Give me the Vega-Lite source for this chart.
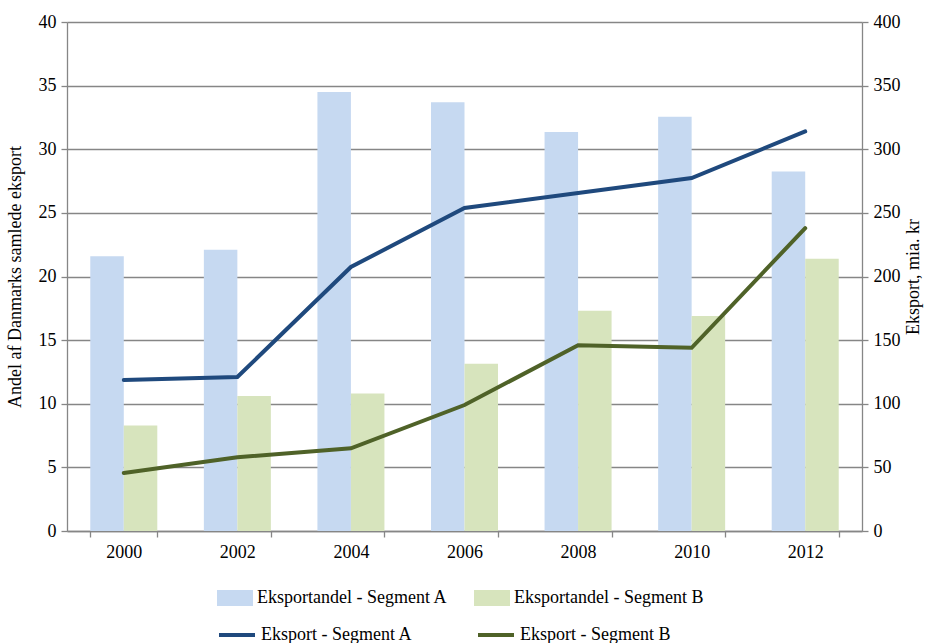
{
  "$schema": "https://vega.github.io/schema/vega-lite/v6.json",
  "width": 795,
  "height": 509,
  "autosize": {"type": "none"},
  "padding": {"left": 67, "top": 22, "right": 69, "bottom": 112},
  "background": "white",
  "config": {
    "font": "Times New Roman",
    "view": {"stroke": null},
    "axis": {
      "labelFont": "Times New Roman",
      "titleFont": "Times New Roman",
      "labelFontSize": 18,
      "titleFontSize": 18,
      "titleFontWeight": "normal",
      "labelColor": "#000000",
      "titleColor": "#000000",
      "domainColor": "#868686",
      "tickColor": "#868686",
      "gridColor": "#868686",
      "domainWidth": 1.3,
      "tickWidth": 1.3,
      "gridWidth": 1.3
    },
    "legend": {
      "labelFont": "Times New Roman",
      "labelFontSize": 18,
      "labelColor": "#000000",
      "padding": 0
    }
  },
  "datasets": {
    "bars": [
      {"year": "2000", "series": "Eksportandel - Segment A", "value": 21.6},
      {"year": "2002", "series": "Eksportandel - Segment A", "value": 22.1},
      {"year": "2004", "series": "Eksportandel - Segment A", "value": 34.5},
      {"year": "2006", "series": "Eksportandel - Segment A", "value": 33.7},
      {"year": "2008", "series": "Eksportandel - Segment A", "value": 31.35},
      {"year": "2010", "series": "Eksportandel - Segment A", "value": 32.55},
      {"year": "2012", "series": "Eksportandel - Segment A", "value": 28.25},
      {"year": "2000", "series": "Eksportandel - Segment B", "value": 8.3},
      {"year": "2002", "series": "Eksportandel - Segment B", "value": 10.6},
      {"year": "2004", "series": "Eksportandel - Segment B", "value": 10.8},
      {"year": "2006", "series": "Eksportandel - Segment B", "value": 13.15},
      {"year": "2008", "series": "Eksportandel - Segment B", "value": 17.3},
      {"year": "2010", "series": "Eksportandel - Segment B", "value": 16.9},
      {"year": "2012", "series": "Eksportandel - Segment B", "value": 21.4}
    ],
    "lines": [
      {"year": "2000", "series": "Eksport - Segment A", "value": 118.7},
      {"year": "2002", "series": "Eksport - Segment A", "value": 121},
      {"year": "2004", "series": "Eksport - Segment A", "value": 207.5},
      {"year": "2006", "series": "Eksport - Segment A", "value": 253.8},
      {"year": "2008", "series": "Eksport - Segment A", "value": 265.6},
      {"year": "2010", "series": "Eksport - Segment A", "value": 277.4},
      {"year": "2012", "series": "Eksport - Segment A", "value": 314},
      {"year": "2000", "series": "Eksport - Segment B", "value": 45.6},
      {"year": "2002", "series": "Eksport - Segment B", "value": 58},
      {"year": "2004", "series": "Eksport - Segment B", "value": 65},
      {"year": "2006", "series": "Eksport - Segment B", "value": 99},
      {"year": "2008", "series": "Eksport - Segment B", "value": 146},
      {"year": "2010", "series": "Eksport - Segment B", "value": 144},
      {"year": "2012", "series": "Eksport - Segment B", "value": 238}
    ]
  },
  "layer": [
    {
      "data": {"name": "bars"},
      "mark": {"type": "bar"},
      "encoding": {
        "x": {
          "field": "year", "type": "ordinal",
          "scale": {"paddingInner": 0.41, "paddingOuter": 0.205},
          "axis": {"title": null, "labelAngle": 0, "tickBand": "extent", "tickSize": 6, "labelPadding": 6, "domain": true}
        },
        "xOffset": {"field": "series", "type": "nominal", "scale": {"paddingInner": 0}},
        "y": {
          "field": "value", "type": "quantitative",
          "scale": {"domain": [0, 40], "nice": false},
          "axis": {
            "title": "Andel af Danmarks samlede eksport",
            "values": [0, 5, 10, 15, 20, 25, 30, 35, 40],
            "orient": "left", "grid": true, "tickSize": 6, "labelPadding": 5, "titlePadding": 14
          }
        },
        "color": {
          "field": "series", "type": "nominal",
          "scale": {"domain": ["Eksportandel - Segment A", "Eksportandel - Segment B"], "range": ["#c6d9f1", "#d7e4bd"]},
          "legend": {
            "title": null, "orient": "none", "legendX": 150, "legendY": 558,
            "direction": "horizontal", "columns": 2, "columnPadding": 26,
            "symbolType": "M-1,-0.44H1V0.44H-1Z", "symbolSize": 1296, "symbolStrokeWidth": 0,
            "labelOffset": 4, "labelLimit": 400
          }
        }
      }
    },
    {
      "data": {"name": "lines"},
      "mark": {"type": "line", "strokeWidth": 4, "strokeCap": "round"},
      "encoding": {
        "x": {"field": "year", "type": "ordinal"},
        "y": {
          "field": "value", "type": "quantitative",
          "scale": {"domain": [0, 400], "nice": false},
          "axis": {
            "title": "Eksport, mia. kr",
            "values": [0, 50, 100, 150, 200, 250, 300, 350, 400],
            "orient": "right", "grid": false, "tickSize": 6, "labelPadding": 5,
            "titleAngle": 270, "titlePadding": 22
          }
        },
        "stroke": {
          "field": "series", "type": "nominal",
          "scale": {"domain": ["Eksport - Segment A", "Eksport - Segment B"], "range": ["#1f497d", "#4f6228"]},
          "legend": {
            "title": null, "orient": "none", "legendX": 150, "legendY": 593,
            "direction": "horizontal", "columns": 2, "columnPadding": 57,
            "symbolType": "stroke", "symbolSize": 1296, "symbolStrokeWidth": 4,
            "labelOffset": 4, "labelLimit": 400
          }
        }
      }
    }
  ],
  "resolve": {"scale": {"y": "independent"}}
}
